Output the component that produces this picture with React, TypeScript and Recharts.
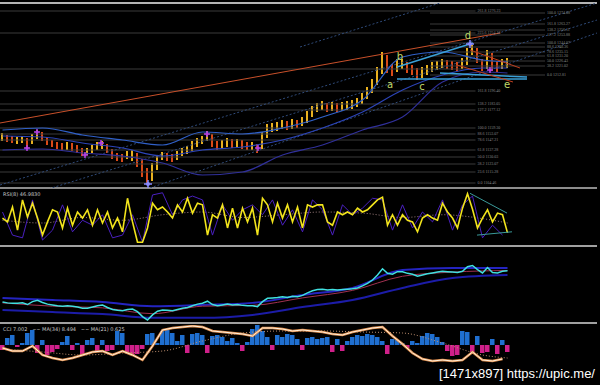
import { ComposedChart, Bar, Line, XAxis, YAxis, ReferenceLine, ReferenceDot, Cell } from 'recharts';

// one slot = one candle, 5px wide
const N = 102;
const X_DOMAIN: [number, number] = [-0.5, 119.5];
const slots = Array.from({ length: N }, (_, i) => i);

const priceHigh = [
  1154, 1152, 1151, 1150, 1151, 1149, 1153, 1157, 1155, 1150,
  1147, 1145, 1144, 1145, 1144, 1142, 1139, 1139, 1142, 1145,
  1146, 1143, 1138, 1134, 1133, 1136, 1137, 1134, 1128, 1119,
  1124, 1131, 1135, 1134, 1133, 1136, 1139, 1141, 1146, 1149,
  1151, 1156, 1153, 1146, 1147, 1149, 1148, 1148, 1147, 1145,
  1145, 1143, 1155, 1163, 1164, 1165, 1167, 1166, 1168, 1167,
  1170, 1176, 1181, 1184, 1186, 1184, 1185, 1184, 1185, 1186,
  1187, 1189, 1194, 1200, 1208, 1220, 1235, 1232, 1223, 1228,
  1228, 1225, 1222, 1219, 1220, 1222, 1225, 1226, 1228, 1227,
  1226, 1225, 1229, 1239, 1242, 1239, 1228, 1237, 1234, 1226,
  1228, 1229,
];
const priceLow = [
  1146, 1145, 1144, 1143, 1144, 1140, 1143, 1148, 1146, 1142,
  1140, 1138, 1136, 1137, 1136, 1134, 1131, 1132, 1134, 1137,
  1138, 1134, 1128, 1126, 1125, 1128, 1126, 1120, 1110, 1103,
  1106, 1117, 1127, 1126, 1125, 1127, 1131, 1133, 1136, 1140,
  1143, 1146, 1140, 1137, 1139, 1140, 1139, 1140, 1138, 1137,
  1137, 1134, 1138, 1149, 1155, 1156, 1158, 1157, 1158, 1159,
  1161, 1164, 1170, 1175, 1177, 1175, 1176, 1175, 1176, 1177,
  1178, 1180, 1183, 1188, 1194, 1202, 1213, 1214, 1211, 1215,
  1218, 1214, 1212, 1207, 1209, 1212, 1215, 1217, 1219, 1218,
  1217, 1216, 1218, 1222, 1232, 1224, 1216, 1218, 1216, 1215,
  1218, 1219,
];
const priceClose = [
  1150, 1148, 1147, 1147, 1148, 1144, 1151, 1154, 1149, 1145,
  1143, 1141, 1140, 1141, 1140, 1138, 1135, 1135, 1138, 1141,
  1143, 1137, 1132, 1130, 1129, 1132, 1133, 1127, 1115, 1107,
  1119, 1128, 1131, 1130, 1129, 1132, 1135, 1137, 1141, 1145,
  1147, 1152, 1144, 1141, 1143, 1145, 1143, 1144, 1142, 1141,
  1141, 1139, 1151, 1159, 1160, 1161, 1163, 1161, 1164, 1163,
  1166, 1172, 1177, 1180, 1181, 1179, 1180, 1179, 1180, 1181,
  1182, 1184, 1189, 1195, 1203, 1215, 1230, 1219, 1217, 1223,
  1223, 1219, 1217, 1212, 1215, 1218, 1220, 1222, 1224, 1223,
  1222, 1221, 1224, 1235, 1238, 1228, 1220, 1233, 1221, 1220,
  1224, 1225,
];

// moving averages, sampled every 8 candles
const maIdx = [0, 8, 16, 24, 32, 40, 48, 56, 64, 72, 80, 88, 96, 101];
const maUpper = [1157, 1159, 1152, 1147, 1142, 1155, 1153, 1159, 1170, 1187, 1230, 1235, 1227, 1225];
const maMid = [1151, 1150, 1144, 1139, 1131, 1137, 1140, 1147, 1159, 1175, 1197, 1212, 1219, 1219];
const maSlow = [1137, 1138, 1134, 1131, 1124, 1112, 1115, 1132, 1142, 1157, 1170, 1205, 1215, 1214];

// fibonacci levels
const fibLeft = [1276, 1254, 1218, 1196, 1183, 1177, 1159, 1153, 1147, 1137, 1130, 1123, 1115, 1104];
const fibLeftText = [
  '261.8 1276.23', '223.6 1254.18', '', '161.8 1196.40', '138.2 1183.05', '127.2 1177.12',
  '100.0 1159.30', '88.6 1153.07', '78.6 1147.21', '61.8 1137.28', '50.0 1130.03',
  '38.2 1123.07', '23.6 1115.28', '0.0 1104.46',
];
const fibRight = [1274, 1263, 1257, 1252, 1244, 1240, 1235, 1231, 1226, 1221, 1212];
const fibRightText = [
  '100.0 1274.08', '161.8 1263.27', '138.2 1256.11', '127.2 1253.88', '100.0 1244.07',
  '88.6 1240.36', '78.6 1235.15', '61.8 1231.20', '50.0 1226.43', '38.2 1221.02', '0.0 1212.81',
];

const waveLabels = ['a', 'b', 'c', 'd', 'e'];
const waveX = [77.5, 79.5, 83.9, 93.1, 100.9];
const waveY = [1203, 1231, 1201, 1252, 1203];

const fractalX = [6.9, 4.9, 19.7, 16.5, 40.9, 51.1, 97.5];
const fractalY = [1155, 1139, 1144, 1132, 1153, 1139, 1217];
const bigFractalX = [29.1, 93.5];
const bigFractalY = [1103, 1243];

// oscillator panel
const rsiLine = [
  49, 42, 69, 27, 82, 51, 76, 49, 18, 42,
  64, 60, 31, 67, 36, 60, 49, 64, 36, 64,
  40, 60, 31, 49, 24, 85, 42, 5, 5, 31,
  76, 64, 69, 60, 49, 73, 60, 85, 58, 76,
  73, 18, 55, 49, 73, 31, 67, 31, 67, 42,
  67, 18, 85, 73, 42, 76, 49, 73, 42, 69,
  31, 73, 69, 73, 73, 42, 36, 60, 55, 60,
  55, 67, 60, 64, 73, 82, 87, 36, 55, 36,
  55, 45, 42, 24, 49, 55, 49, 45, 76, 60,
  49, 31, 67, 93, 65, 31, 49, 64, 42, 58,
  55, 22,
];
// every 2nd candle
const rsiSlow = [
  60, 18, 13, 82, 9, 27, 73, 24, 45, 36, 55, 13, 18, 55, 5, 91, 95, 55, 82, 89,
  82, 18, 73, 45, 64, 73, 55, 82, 36, 64, 24, 82, 64, 18, 73, 55, 67, 85, 82, 27,
  73, 31, 60, 42, 82, 27, 73, 89, 13, 36, 18,
];
const rsiSignal = [45, 40, 50, 45, 55, 60, 50, 55, 60, 58, 50, 55, 48, 40];

// band panel
const bandIdx = [0, 10, 20, 30, 40, 50, 60, 70, 80, 90, 101];
const bandUpper = [1160, 1155, 1150, 1140, 1143, 1148, 1167, 1184, 1227, 1232, 1232];
const bandLower = [1131, 1126, 1121, 1112, 1112, 1119, 1138, 1155, 1184, 1208, 1215];
const bandMa = [1148, 1140, 1136, 1122, 1140, 1142, 1160, 1178, 1212, 1222, 1226];

// histogram panel
const hist = [
  -25, 35, 50, -10, 10, 60, 75, -40, 25, -50,
  -35, -20, 15, 45, -25, 10, -50, 25, 35, -30,
  25, -30, -25, 70, 60, -40, -50, -45, -20, 55,
  60, 10, 70, 75, 60, 20, 50, -40, 55, 60,
  50, -40, 45, 50, 40, 20, 35, 10, -30, 15,
  80, 100, 70, 40, -25, 50, 40, 55, 50, 30,
  -25, 35, 40, 30, 35, 40, -35, 30, -30, 20,
  40, 50, 45, 55, 50, 40, 20, -45, 30, 25,
  10, -15, 20, 10, 45, 60, 55, 40, 15, -30,
  -55, -50, 70, 65, -35, 45, -40, -35, 30, -45,
  25, -35,
];
// every 2nd candle
const cciLine = [
  -15, -30, -30, -5, -50, -65, -75, -65, -50, -35,
  -30, -50, -30, -50, -75, -5, 75, 85, 90, 95,
  90, 70, 65, 60, 55, 45, 85, 85, 80, 70,
  75, 70, 65, 55, 50, 65, 75, 85, 90, 45,
  5, -40, -70, -80, -75, -80, -75, -35, -75, -80,
  -70,
];
const cciSignal = [-20, -35, -50, -40, -30, 20, 60, 70, 70, 65, 60, 10, -50, -65];

const pick = (idx: number[], vals: number[], i: number) => {
  const k = idx.indexOf(i);
  return k >= 0 ? vals[k] : null;
};
const even = (vals: number[], i: number) => (i % 2 === 0 && i / 2 < vals.length ? vals[i / 2] : null);

const mainData = slots.map((i) => ({
  i,
  range: [priceLow[i], priceHigh[i]],
  close: priceClose[i],
  maUpper: pick(maIdx, maUpper, i),
  maMid: pick(maIdx, maMid, i),
  maSlow: pick(maIdx, maSlow, i),
}));
const rsiData = slots.map((i) => ({
  i,
  rsi: rsiLine[i],
  slow: even(rsiSlow, i),
  signal: pick(maIdx, rsiSignal, i),
}));
const bandData = slots.map((i) => ({
  i,
  close: priceClose[i],
  upper: pick(bandIdx, bandUpper, i),
  lower: pick(bandIdx, bandLower, i),
  ma: pick(bandIdx, bandMa, i),
}));
const histData = slots.map((i) => ({
  i,
  hist: hist[i],
  cci: even(cciLine, i),
  signal: pick(maIdx, cciSignal, i),
}));

const GRID = '#3a3a3a';
const FIB_TEXT = '#8a8a8a';

const Cross = ({ cx, cy, color, size }: any) => (
  <g>
    <line x1={cx - size} y1={cy} x2={cx + size} y2={cy} stroke={color} strokeWidth={1.5} />
    <line x1={cx} y1={cy - size} x2={cx} y2={cy + size} stroke={color} strokeWidth={1.5} />
    <circle cx={cx} cy={cy} r={size / 2} fill={color} />
  </g>
);

const margin = { top: 0, right: 0, bottom: 0, left: 0 };
const sep = (top: number, color: string) => (
  <div style={{ position: 'absolute', left: 0, top, width: 597, height: 2, background: color }} />
);

export default function App() {
  return (
    <div style={{ position: 'absolute', left: 0, top: 0, width: 600, height: 385, background: '#000', overflow: 'hidden' }}>
      {sep(2, '#b4b4b4')}
      {sep(187, '#8c8c8c')}
      {sep(245, '#a0a0a0')}
      {sep(322, '#a0a0a0')}

      <div style={{ position: 'absolute', left: 0, top: 3 }}>
        <ComposedChart width={600} height={185} data={mainData} margin={margin}>
          <XAxis type="number" dataKey="i" domain={X_DOMAIN} hide allowDataOverflow />
          <YAxis domain={[1099, 1284]} hide allowDataOverflow />
          {fibLeft.map((y, k) => (
            <ReferenceLine
              key={'fl' + k}
              segment={[{ x: -0.5, y }, { x: 94.6, y }]}
              stroke={GRID}
              ifOverflow="hidden"
              label={fibLeftText[k] ? { value: fibLeftText[k], position: 'right', fill: FIB_TEXT, fontSize: 4, offset: 2 } : undefined}
            />
          ))}
          {fibRight.map((y, k) => (
            <ReferenceLine
              key={'fr' + k}
              segment={[{ x: 85.5, y }, { x: 108.5, y }]}
              stroke={GRID}
              ifOverflow="hidden"
              label={{ value: fibRightText[k], position: 'right', fill: FIB_TEXT, fontSize: 4, offset: 2 }}
            />
          ))}
          <ReferenceLine segment={[{ x: -0.5, y: 1102 }, { x: 118.9, y: 1284 }]} stroke="#2f4a78" strokeDasharray="2 2" ifOverflow="hidden" />
          <ReferenceLine segment={[{ x: 8.5, y: 1097 }, { x: 118.9, y: 1267 }]} stroke="#2f4a78" strokeDasharray="2 2" ifOverflow="hidden" />
          <ReferenceLine segment={[{ x: 29.5, y: 1099 }, { x: 118.9, y: 1254 }]} stroke="#2f4a78" strokeDasharray="2 2" ifOverflow="hidden" />
          <ReferenceLine segment={[{ x: 59.5, y: 1240 }, { x: 87.5, y: 1284 }]} stroke="#2f4a78" strokeDasharray="2 2" ifOverflow="hidden" />
          <ReferenceLine segment={[{ x: -0.5, y: 1164 }, { x: 99.5, y: 1254 }]} stroke="#c8502a" strokeWidth={1} ifOverflow="hidden" />
          <Line dataKey="maSlow" stroke="#30309a" strokeWidth={1.2} dot={false} connectNulls type="monotone" isAnimationActive={false} />
          <Line dataKey="maMid" stroke="#2c44b8" strokeWidth={1.2} dot={false} connectNulls type="monotone" isAnimationActive={false} />
          <Line dataKey="maUpper" stroke="#3060c8" strokeWidth={1.2} dot={false} connectNulls type="monotone" isAnimationActive={false} />
          <Bar dataKey="range" barSize={2} isAnimationActive={false}>
            {mainData.map((d, k) => (
              <Cell key={k} fill={k > 0 && d.close < priceClose[k - 1] ? '#d84a18' : '#e8b020'} />
            ))}
          </Bar>
          <ReferenceLine segment={[{ x: 78.9, y: 1220 }, { x: 94.1, y: 1244 }]} stroke="#3aa0d8" strokeWidth={1.5} ifOverflow="hidden" />
          <ReferenceLine segment={[{ x: 78.9, y: 1208 }, { x: 104.9, y: 1208 }]} stroke="#3aa0d8" strokeWidth={1.5} ifOverflow="hidden" />
          <ReferenceLine segment={[{ x: 87.5, y: 1214 }, { x: 104.9, y: 1210 }]} stroke="#3aa0d8" strokeWidth={1.5} ifOverflow="hidden" />
          <ReferenceLine segment={[{ x: 93.5, y: 1237 }, { x: 103.5, y: 1219 }]} stroke="#c04020" ifOverflow="hidden" />
          <ReferenceLine segment={[{ x: 90.9, y: 1222 }, { x: 102.1, y: 1205 }]} stroke="#c04020" ifOverflow="hidden" />
          {fractalX.map((x, k) => (
            <ReferenceDot key={'f' + k} x={x} y={fractalY[k]} ifOverflow="visible"
              shape={(p: any) => <Cross cx={p.cx} cy={p.cy} color="#b040e0" size={3} />} />
          ))}
          {bigFractalX.map((x, k) => (
            <ReferenceDot key={'bf' + k} x={x} y={bigFractalY[k]} ifOverflow="visible"
              shape={(p: any) => <Cross cx={p.cx} cy={p.cy} color="#8a8aff" size={4} />} />
          ))}
          {waveLabels.map((t, k) => (
            <ReferenceDot key={'w' + k} x={waveX[k]} y={waveY[k]} ifOverflow="visible"
              shape={(p: any) => (
                <text x={p.cx} y={p.cy} fill="#c0d868" fontSize={10} fontFamily="DejaVu Sans" textAnchor="middle" dominantBaseline="central">{t}</text>
              )} />
          ))}
        </ComposedChart>
      </div>

      <div style={{ position: 'absolute', left: 0, top: 190 }}>
        <ComposedChart width={600} height={55} data={rsiData} margin={margin}>
          <XAxis type="number" dataKey="i" domain={X_DOMAIN} hide allowDataOverflow />
          <YAxis domain={[0, 100]} hide allowDataOverflow />
          <Line dataKey="signal" stroke="#a08080" strokeDasharray="1 2" strokeWidth={1} dot={false} connectNulls type="monotone" isAnimationActive={false} />
          <Line dataKey="slow" stroke="#4a20c0" strokeWidth={1} dot={false} connectNulls isAnimationActive={false} />
          <Line dataKey="rsi" stroke="#f2e41c" strokeWidth={1.6} dot={false} isAnimationActive={false} />
          <ReferenceLine segment={[{ x: 93.5, y: 94 }, { x: 100.9, y: 58 }]} stroke="#3a9a9a" ifOverflow="hidden" />
          <ReferenceLine segment={[{ x: 94.9, y: 18 }, { x: 101.9, y: 24 }]} stroke="#3a9a9a" ifOverflow="hidden" />
        </ComposedChart>
        <div style={{ position: 'absolute', left: 3, top: 1, fontSize: 5, color: '#c8c8c8', fontFamily: 'DejaVu Sans' }}>RSI(8) 46.9830</div>
      </div>

      <div style={{ position: 'absolute', left: 0, top: 248 }}>
        <ComposedChart width={600} height={74} data={bandData} margin={margin}>
          <XAxis type="number" dataKey="i" domain={X_DOMAIN} hide allowDataOverflow />
          <YAxis domain={[1102, 1280]} hide allowDataOverflow />
          <Line dataKey="lower" stroke="#1c1ca8" strokeWidth={2} dot={false} connectNulls type="monotone" isAnimationActive={false} />
          <Line dataKey="upper" stroke="#2424c0" strokeWidth={2} dot={false} connectNulls type="monotone" isAnimationActive={false} />
          <Line dataKey="ma" stroke="#a03050" strokeWidth={1} dot={false} connectNulls type="monotone" isAnimationActive={false} />
          <Line dataKey="close" stroke="#40e0e0" strokeWidth={1.5} dot={false} isAnimationActive={false} />
        </ComposedChart>
      </div>

      <div style={{ position: 'absolute', left: 0, top: 325 }}>
        <ComposedChart width={600} height={40} data={histData} margin={margin}>
          <XAxis type="number" dataKey="i" domain={X_DOMAIN} hide allowDataOverflow />
          <YAxis domain={[-100, 100]} hide allowDataOverflow />
          <Bar dataKey="hist" barSize={5} isAnimationActive={false}>
            {histData.map((d, k) => (
              <Cell key={k} fill={d.hist >= 0 ? '#1f6fd0' : '#d0208a'} />
            ))}
          </Bar>
          <Line dataKey="signal" stroke="#c09070" strokeDasharray="1 2" strokeWidth={1} dot={false} connectNulls type="monotone" isAnimationActive={false} />
          <Line dataKey="cci" stroke="#e09050" strokeWidth={2.5} dot={false} connectNulls isAnimationActive={false} />
          <Line dataKey="cci" stroke="#fff0dc" strokeWidth={1} dot={false} connectNulls isAnimationActive={false} />
        </ComposedChart>
        <div style={{ position: 'absolute', left: 3, top: 1, fontSize: 5, color: '#c8c8c8', fontFamily: 'DejaVu Sans', whiteSpace: 'pre' }}>
          {'CCI 7.002   ~~ MA(34) 8.494   ~~ MA(21) 0.625'}
        </div>
      </div>

      <div style={{ position: 'absolute', right: 5, top: 367, fontSize: 13, lineHeight: '14px', color: '#ffffff', fontFamily: 'Liberation Sans Narrow, Liberation Sans, sans-serif', whiteSpace: 'nowrap' }}>
        [1471x897] https://upic.me/
      </div>
    </div>
  );
}
